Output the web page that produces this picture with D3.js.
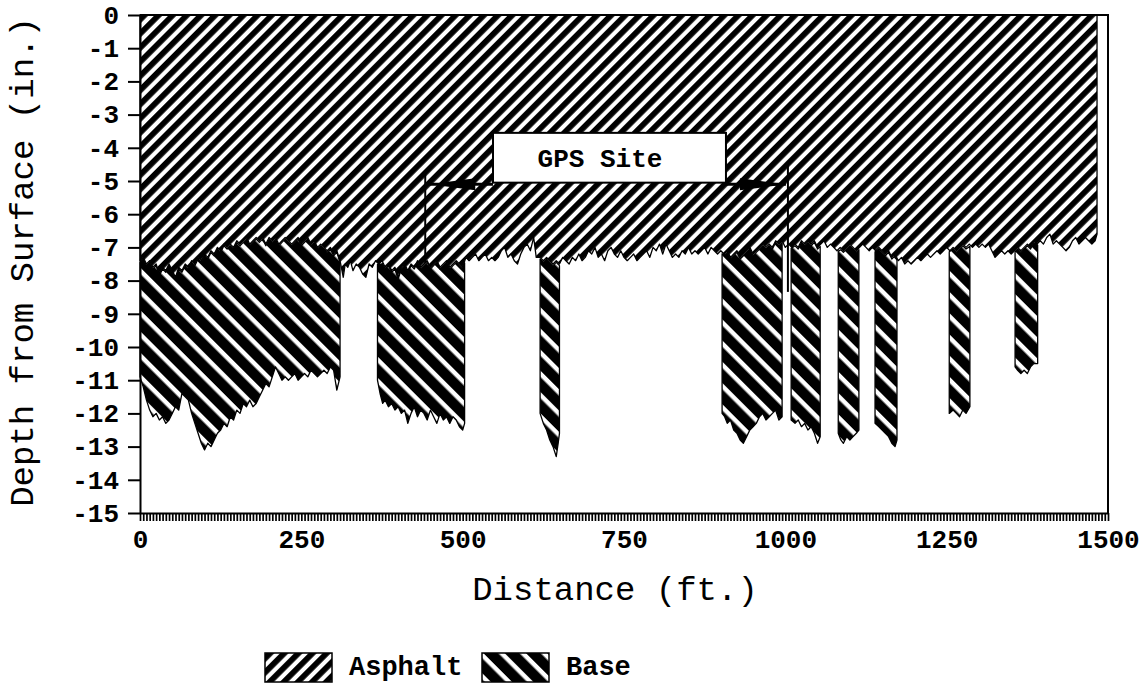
<!DOCTYPE html>
<html>
<head>
<meta charset="utf-8">
<script src="https://cdn.jsdelivr.net/npm/d3@7"></script>
<style>
  html, body { margin: 0; padding: 0; background: #fff; }
  svg { display: block; }
  text { font-family: "Courier New", "Liberation Mono", monospace; fill: #000; }
</style>
</head>
<body>
<svg id="chart" width="1145" height="686"></svg>
<script>
// ---------------- DATA ----------------
// Distance (ft.) and bottom of the asphalt layer (depth, in.)
const asphaltX = [0,5,10,15,20,25,30,35,40,45,50,55,60,65,70,75,80,85,90,95,100,105,110,115,120,125,130,135,140,145,150,155,160,165,170,175,180,185,190,195,200,205,210,215,220,225,230,235,240,245,250,255,260,265,270,275,280,285,290,295,300,305,310,315,318,322,326,330,335,340,345,350,355,360,365,370,375,380,385,390,395,400,405,410,415,420,425,430,435,440,445,450,455,460,465,470,475,480,485,490,495,500,505,510,515,520,525,530,535,540,545,550,555,560,565,570,575,580,585,590,595,600,605,610,614,620,625,630,635,640,645,650,655,660,665,670,675,680,685,690,695,700,705,710,715,720,725,730,735,740,745,750,755,760,765,770,775,780,785,790,795,800,805,810,815,820,825,830,835,840,845,850,855,860,865,870,875,880,885,890,895,900,905,910,915,920,925,930,935,940,945,950,955,960,965,970,975,980,985,990,995,1000,1005,1010,1015,1020,1025,1030,1035,1040,1045,1050,1055,1060,1065,1070,1075,1080,1085,1090,1095,1100,1105,1110,1115,1120,1125,1130,1135,1140,1145,1150,1155,1160,1165,1170,1175,1180,1185,1190,1195,1200,1205,1210,1215,1220,1225,1230,1235,1240,1245,1250,1255,1260,1265,1270,1275,1280,1285,1290,1295,1300,1305,1310,1315,1320,1325,1330,1335,1340,1345,1350,1355,1360,1365,1370,1375,1380,1385,1390,1395,1400,1405,1410,1415,1420,1425,1430,1435,1440,1445,1450,1455,1460,1465,1470,1475,1480,1483];
const asphaltBottom = [-7.4,-7.3,-7.5,-7.4,-7.6,-7.5,-7.8,-7.6,-7.7,-7.5,-7.7,-7.9,-7.6,-7.7,-7.5,-7.6,-7.4,-7.5,-7.3,-7.4,-7.2,-7.3,-7.1,-7.2,-7.0,-7.1,-6.9,-7.0,-6.9,-7.0,-6.8,-6.9,-6.8,-6.7,-6.9,-6.8,-6.7,-6.8,-6.7,-6.9,-6.7,-6.8,-6.7,-6.9,-6.8,-6.7,-6.8,-6.9,-6.8,-6.7,-6.9,-6.8,-6.7,-6.9,-6.8,-7.0,-6.9,-7.0,-7.1,-7.0,-7.2,-7.1,-7.4,-7.9,-7.5,-7.6,-7.4,-7.7,-7.5,-7.6,-7.8,-7.9,-7.5,-7.6,-7.4,-7.5,-7.4,-7.6,-7.5,-7.7,-7.6,-7.9,-7.6,-7.5,-7.7,-7.5,-7.6,-7.4,-7.6,-7.5,-7.4,-7.6,-7.5,-7.4,-7.6,-7.5,-7.4,-7.6,-7.5,-7.4,-7.5,-7.6,-7.3,-7.4,-7.3,-7.2,-7.4,-7.3,-7.2,-7.4,-7.3,-7.4,-7.3,-7.1,-7.0,-7.3,-7.2,-7.4,-7.5,-7.2,-7.0,-6.9,-7.1,-6.7,-7.3,-7.3,-7.4,-7.3,-7.4,-7.5,-7.4,-7.5,-7.3,-7.4,-7.5,-7.3,-7.4,-7.2,-7.4,-7.3,-7.1,-7.2,-7.0,-7.3,-7.2,-7.4,-7.1,-7.0,-7.2,-7.3,-7.1,-7.3,-7.4,-7.3,-7.2,-7.4,-7.3,-7.2,-7.1,-7.3,-7.0,-7.1,-6.9,-7.2,-6.9,-7.1,-7.3,-7.2,-7.3,-7.1,-7.2,-7.0,-7.2,-7.1,-7.2,-7.1,-7.0,-7.2,-7.0,-7.1,-7.2,-7.1,-7.2,-7.1,-7.3,-7.2,-7.1,-7.3,-7.2,-7.1,-7.0,-7.2,-7.1,-7.0,-6.9,-7.0,-6.9,-7.0,-6.8,-6.9,-6.8,-7.0,-6.9,-7.0,-6.9,-7.0,-6.8,-6.9,-6.8,-6.9,-6.8,-7.0,-6.9,-6.8,-7.0,-6.9,-7.0,-7.1,-7.0,-7.1,-7.0,-6.9,-7.0,-7.1,-7.0,-6.9,-7.0,-7.1,-7.0,-7.1,-7.0,-7.1,-7.2,-7.1,-7.3,-7.2,-7.4,-7.3,-7.5,-7.4,-7.5,-7.4,-7.3,-7.4,-7.3,-7.2,-7.3,-7.2,-7.1,-7.2,-7.1,-7.0,-7.1,-7.0,-7.1,-7.0,-6.9,-7.0,-6.9,-7.0,-6.9,-7.0,-6.9,-7.0,-6.9,-7.1,-7.3,-7.2,-7.1,-7.2,-7.1,-7.2,-7.1,-7.0,-7.1,-7.0,-6.9,-7.0,-6.8,-6.9,-6.8,-6.9,-6.7,-6.6,-6.9,-6.8,-6.9,-7.0,-7.1,-7.0,-6.8,-6.7,-6.9,-6.8,-6.7,-6.8,-6.9,-6.8,-6.6];

// Base layer: bottom depth, only where the base was recorded
const base1X = [0,5,10,15,20,25,30,35,40,45,50,55,60,65,70,75,80,85,90,95,100,105,110,115,120,125,130,135,140,145,150,155,160,165,170,175,180,185,190,195,200,205,210,215,220,225,230,235,240,245,250,255,260,265,270,275,280,285,290,295,300,305,310];
const base1Bottom = [-10.9,-11.2,-11.6,-11.9,-12.1,-12.0,-12.2,-12.1,-12.3,-12.2,-12.0,-11.8,-11.9,-11.4,-11.5,-11.6,-12.0,-12.3,-12.6,-12.9,-13.1,-12.9,-13.0,-12.8,-12.6,-12.5,-12.3,-12.4,-12.1,-12.2,-11.9,-12.0,-11.7,-11.8,-11.6,-11.8,-11.7,-11.5,-11.3,-11.1,-11.2,-10.9,-10.6,-10.8,-11.0,-10.9,-11.0,-10.9,-10.8,-11.0,-10.9,-10.8,-10.9,-10.7,-10.8,-10.9,-10.8,-10.7,-10.8,-10.6,-10.7,-11.3,-10.9];
const base2X = [368,372,376,380,385,390,395,400,405,410,415,420,425,430,435,440,445,450,455,460,465,470,475,480,485,490,495,500,503];
const base2Bottom = [-11.0,-11.4,-11.7,-11.6,-11.8,-11.7,-11.9,-11.8,-12.0,-11.9,-12.3,-12.0,-11.8,-12.1,-11.9,-12.0,-12.2,-11.9,-12.1,-12.3,-12.0,-12.2,-12.1,-12.3,-12.1,-12.2,-12.4,-12.5,-12.3];
const base3X = [620,625,630,635,640,645,648,650];
const base3Bottom = [-12.0,-12.3,-12.5,-12.8,-13.0,-13.3,-12.9,-12.6];
const base4X = [902,906,910,915,920,925,930,935,940,945,950,955,960,965,970,975,980,985,990,995];
const base4Bottom = [-12.0,-12.1,-12.3,-12.2,-12.5,-12.6,-12.8,-12.9,-12.7,-12.5,-12.4,-12.3,-12.1,-12.0,-12.2,-12.1,-12.0,-11.9,-12.2,-12.1];
const base5X = [1009,1015,1020,1025,1030,1035,1040,1045,1050,1054];
const base5Bottom = [-12.2,-12.3,-12.2,-12.4,-12.3,-12.5,-12.4,-12.6,-12.9,-12.7];
const base6X = [1082,1086,1090,1095,1100,1105,1110,1114];
const base6Bottom = [-12.6,-12.8,-12.9,-12.7,-12.8,-12.7,-12.6,-12.5];
const base7X = [1139,1145,1150,1155,1160,1165,1170,1173];
const base7Bottom = [-12.3,-12.4,-12.5,-12.6,-12.7,-12.9,-13.0,-12.8];
const base8X = [1254,1260,1265,1270,1275,1280,1286];
const base8Bottom = [-12.0,-11.9,-12.0,-12.1,-11.9,-12.0,-11.8];
const base9X = [1356,1360,1365,1370,1375,1380,1385,1391];
const base9Bottom = [-10.6,-10.7,-10.8,-10.7,-10.8,-10.6,-10.5,-10.5];

// Axis ticks
const xTickValues = [0,250,500,750,1000,1250,1500];
const xTickLabels = ["0","250","500","750","1000","1250","1500"];
const yTickValues = [0,-1,-2,-3,-4,-5,-6,-7,-8,-9,-10,-11,-12,-13,-14,-15];
const yTickLabels = ["0","-1","-2","-3","-4","-5","-6","-7","-8","-9","-10","-11","-12","-13","-14","-15"];

// GPS site annotation (ft. / in.)
const gpsLabel = "GPS Site";
const gpsStart = 442, gpsEnd = 1004;
const legendLabels = ["Asphalt", "Base"];

// ---------------- CHART ----------------
const FONT = "'Courier New','Liberation Mono',monospace";
const svg = d3.select("#chart");
const x = d3.scaleLinear().domain([0, 1500]).range([140, 1108]);
const y = d3.scaleLinear().domain([0, -15]).range([15, 513]);

const defs = svg.append("defs");
function hatch(id, size, black, angle) {
  const p = defs.append("pattern").attr("id", id)
    .attr("patternUnits", "userSpaceOnUse")
    .attr("width", size).attr("height", size)
    .attr("patternTransform", `rotate(${angle})`);
  p.append("rect").attr("width", size).attr("height", size).attr("fill", "#fff");
  p.append("rect").attr("width", black).attr("height", size).attr("fill", "#000");
}
hatch("asphaltHatch", 10, 5.8, 45);
hatch("baseHatch", 15, 10.5, -45);

// interpolated asphalt bottom (top of base)
const asphaltAt = d3.scaleLinear().domain(asphaltX).range(asphaltBottom);

const baseSegments = [
  [base1X, base1Bottom], [base2X, base2Bottom], [base3X, base3Bottom],
  [base4X, base4Bottom], [base5X, base5Bottom], [base6X, base6Bottom],
  [base7X, base7Bottom], [base8X, base8Bottom], [base9X, base9Bottom]
].map(([xs, bs]) => xs.map((d, i) => ({ x: d, top: asphaltAt(d) - 0.05, bottom: bs[i] })));

const baseArea = d3.area().x(d => x(d.x)).y0(d => y(d.top)).y1(d => y(d.bottom));
svg.append("g").selectAll("path").data(baseSegments).join("path")
  .attr("d", baseArea)
  .attr("fill", "url(#baseHatch)")
  .attr("stroke", "#000").attr("stroke-width", 1.3).attr("stroke-linejoin", "round");

const asphaltData = asphaltX.map((d, i) => ({ x: d, bottom: asphaltBottom[i] }));
const asphaltArea = d3.area().x(d => x(d.x)).y0(y(0)).y1(d => y(d.bottom));
svg.append("path").datum(asphaltData)
  .attr("d", asphaltArea)
  .attr("fill", "url(#asphaltHatch)")
  .attr("stroke", "#000").attr("stroke-width", 1.3).attr("stroke-linejoin", "round");

// frame
svg.append("path")
  .attr("d", `M${x(0)},${y(0)}H${x(1500)}V${y(-15)}`)
  .attr("fill", "none").attr("stroke", "#000").attr("stroke-width", 2);

// X axis: dense minor ticks
const minorTicks = d3.range(0, 1501, 5);
svg.append("g").attr("transform", `translate(0,${y(-15)})`)
  .call(d3.axisBottom(x).tickValues(minorTicks).tickSize(8).tickSizeOuter(0).tickFormat(""))
  .call(g => g.selectAll(".tick line").attr("stroke-width", 1.7))
  .call(g => g.select(".domain").attr("stroke-width", 2));
svg.append("g").attr("transform", `translate(0,${y(-15)})`)
  .call(d3.axisBottom(x).tickValues(xTickValues).tickSize(0).tickPadding(17)
    .tickFormat((d, i) => xTickLabels[i]))
  .call(g => g.select(".domain").remove())
  .call(g => g.selectAll("text").attr("font-size", 26)
    .style("font-family", FONT).style("font-weight", "bold"));

// Y axis
svg.append("g").attr("transform", `translate(${x(0)},0)`)
  .call(d3.axisLeft(y).tickValues(yTickValues).tickSize(12).tickSizeOuter(0).tickPadding(9)
    .tickFormat((d, i) => yTickLabels[i]))
  .call(g => g.selectAll(".tick line").attr("stroke-width", 2))
  .call(g => g.select(".domain").attr("stroke-width", 2))
  .call(g => g.selectAll("text").attr("font-size", 26)
    .style("font-family", FONT).style("font-weight", "bold"));

// Axis titles (regular weight)
svg.append("text").attr("x", 615).attr("y", 600).attr("text-anchor", "middle")
  .attr("font-size", 34).style("font-weight", "normal").text("Distance (ft.)");
svg.append("text").attr("transform", "translate(33,262) rotate(-90)")
  .attr("text-anchor", "middle").attr("font-size", 34).style("font-weight", "normal")
  .text("Depth from Surface (in.)");

// GPS annotation
const ay = y(-5.1);
const gps = svg.append("g");
gps.append("line").attr("x1", x(gpsStart)).attr("x2", x(gpsStart))
  .attr("y1", y(-4.73)).attr("y2", y(-7.47)).attr("stroke", "#000").attr("stroke-width", 2);
gps.append("line").attr("x1", x(gpsEnd)).attr("x2", x(gpsEnd))
  .attr("y1", y(-4.5)).attr("y2", y(-8.34)).attr("stroke", "#000").attr("stroke-width", 2);
gps.append("line").attr("x1", x(gpsStart) + 4).attr("x2", x(547)).attr("y1", ay).attr("y2", ay)
  .attr("stroke", "#000").attr("stroke-width", 3);
gps.append("line").attr("x1", x(908)).attr("x2", x(gpsEnd) - 2).attr("y1", ay).attr("y2", ay)
  .attr("stroke", "#000").attr("stroke-width", 3);
const lt = x(gpsStart) + 4, rt = x(gpsEnd) - 2;
gps.append("path").attr("d", `M${lt},${ay}L${lt + 46},${ay - 6}L${lt + 46},${ay + 6}Z`).attr("fill", "#000");
gps.append("path").attr("d", `M${rt},${ay}L${rt - 46},${ay - 6}L${rt - 46},${ay + 6}Z`).attr("fill", "#000");
gps.append("rect").attr("x", x(547)).attr("y", y(-3.55))
  .attr("width", x(908) - x(547)).attr("height", y(-5.05) - y(-3.55))
  .attr("fill", "#fff").attr("stroke", "#000").attr("stroke-width", 2);
gps.append("text").attr("x", 600).attr("y", 167).attr("text-anchor", "middle")
  .attr("font-size", 26).style("font-weight", "bold").text(gpsLabel);

// Legend
const legend = svg.append("g");
const items = [
  { label: legendLabels[0], fill: "url(#asphaltHatch)", x: 265 },
  { label: legendLabels[1], fill: "url(#baseHatch)", x: 482 }
];
items.forEach(it => {
  legend.append("rect").attr("x", it.x).attr("y", 653).attr("width", 67).attr("height", 29)
    .attr("fill", it.fill).attr("stroke", "#000").attr("stroke-width", 1.5);
  legend.append("text").attr("x", it.x + 84).attr("y", 675).attr("font-size", 27)
    .style("font-weight", "bold").text(it.label);
});
</script>
</body>
</html>
